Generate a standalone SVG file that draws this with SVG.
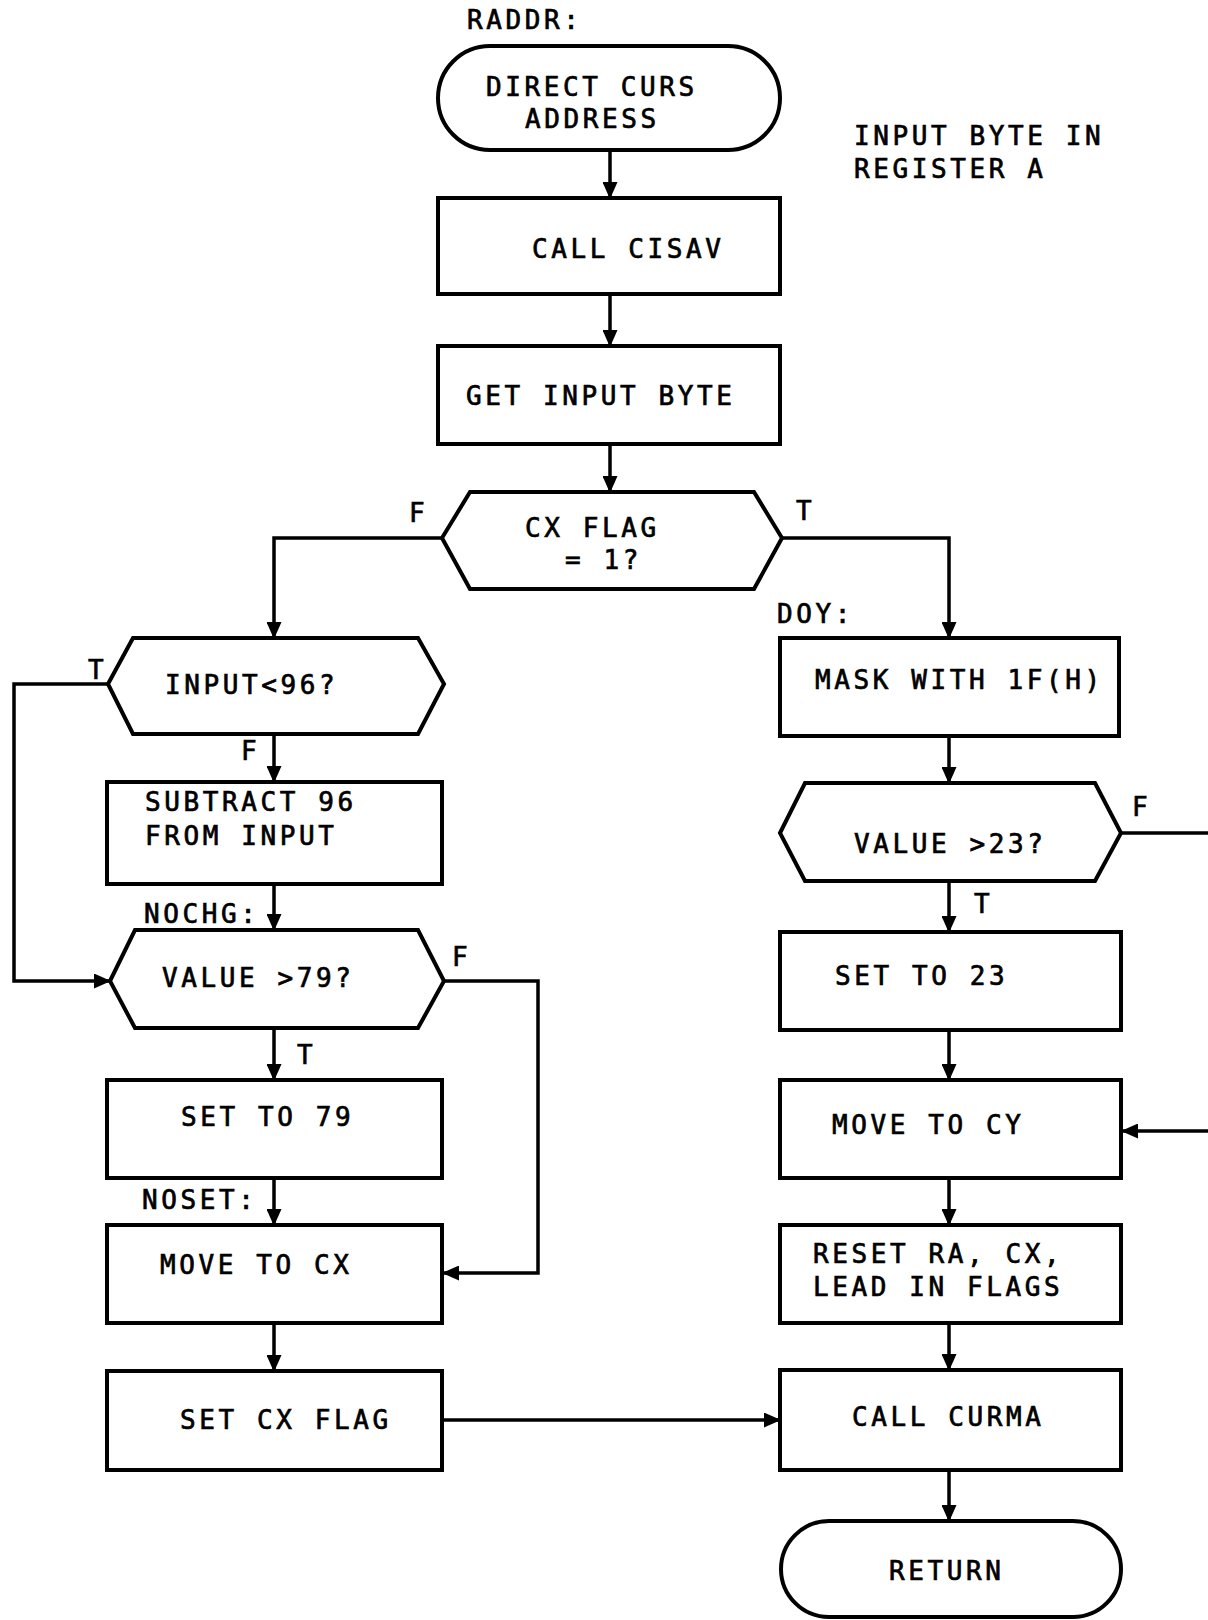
<svg xmlns="http://www.w3.org/2000/svg" width="1208" height="1620" viewBox="0 0 1208 1620">
<style>
.box{fill:#fff;stroke:#000;stroke-width:4}
.ln{fill:none;stroke:#000;stroke-width:3.5}
text{font-family:"DejaVu Sans Mono","Liberation Mono",monospace;font-size:26px;letter-spacing:3.6px;fill:#000;stroke:#000;stroke-width:0.7}
</style>
<defs>
<marker id="ah" markerUnits="userSpaceOnUse" markerWidth="17" markerHeight="15" refX="16" refY="7.5" orient="auto">
<path d="M0,0 L17,7.5 L0,15 z" fill="#000"/>
</marker>
</defs>
<rect width="1208" height="1620" fill="#fff"/>

<g id="connectors">
<path class="ln" d="M610,150 V198" marker-end="url(#ah)"/>
<path class="ln" d="M610,294 V346" marker-end="url(#ah)"/>
<path class="ln" d="M610,444 V492" marker-end="url(#ah)"/>
<path class="ln" d="M442,538 H274 V638" marker-end="url(#ah)"/>
<path class="ln" d="M782,538 H949 V638" marker-end="url(#ah)"/>
<path class="ln" d="M108,684 H14 V981 H110" marker-end="url(#ah)"/>
<path class="ln" d="M274,734 V782" marker-end="url(#ah)"/>
<path class="ln" d="M274,884 V930" marker-end="url(#ah)"/>
<path class="ln" d="M444,981 H538 V1273 H443" marker-end="url(#ah)"/>
<path class="ln" d="M274,1028 V1080" marker-end="url(#ah)"/>
<path class="ln" d="M274,1178 V1225" marker-end="url(#ah)"/>
<path class="ln" d="M274,1323 V1371" marker-end="url(#ah)"/>
<path class="ln" d="M442,1420 H780" marker-end="url(#ah)"/>
<path class="ln" d="M949,736 V783" marker-end="url(#ah)"/>
<path class="ln" d="M1121,833 H1208"/>
<path class="ln" d="M949,881 V932" marker-end="url(#ah)"/>
<path class="ln" d="M949,1030 V1080" marker-end="url(#ah)"/>
<path class="ln" d="M1208,1131 H1122" marker-end="url(#ah)"/>
<path class="ln" d="M949,1178 V1225" marker-end="url(#ah)"/>
<path class="ln" d="M949,1323 V1370" marker-end="url(#ah)"/>
<path class="ln" d="M949,1470 V1521" marker-end="url(#ah)"/>
</g>

<g id="labels">
<text x="467" y="29">RADDR:</text>
<text x="854" y="145">INPUT BYTE IN</text>
<text x="854" y="178">REGISTER A</text>
<text x="409" y="522">F</text>
<text x="796" y="520">T</text>
<text x="88" y="679">T</text>
<text x="241" y="760">F</text>
<text x="144" y="923">NOCHG:</text>
<text x="452" y="966">F</text>
<text x="297" y="1064">T</text>
<text x="142" y="1209">NOSET:</text>
<text x="777" y="623">DOY:</text>
<text x="1132" y="816">F</text>
<text x="974" y="913">T</text>
</g>

<g id="n_start">
<rect class="box" x="438" y="46" width="342" height="104" rx="52" ry="52"/>
<text x="486" y="96">DIRECT CURS</text>
<text x="525" y="128">ADDRESS</text>
</g>
<g id="n_cisav">
<rect class="box" x="438" y="198" width="342" height="96"/>
<text x="532" y="258">CALL CISAV</text>
</g>
<g id="n_getbyte">
<rect class="box" x="438" y="346" width="342" height="98"/>
<text x="466" y="405">GET INPUT BYTE</text>
</g>
<g id="n_cxflag">
<polygon class="box" points="442,538 470,492 754,492 782,538 754,589 470,589"/>
<text x="525" y="537">CX FLAG</text>
<text x="565" y="569">= 1?</text>
</g>
<g id="n_input96">
<polygon class="box" points="108,684 133,638 418,638 444,684 418,734 133,734"/>
<text x="165" y="694">INPUT&lt;96?</text>
</g>
<g id="n_subtract">
<rect class="box" x="107" y="782" width="335" height="102"/>
<text x="145" y="811">SUBTRACT 96</text>
<text x="145" y="845">FROM INPUT</text>
</g>
<g id="n_value79">
<polygon class="box" points="110,981 135,930 418,930 444,981 418,1028 135,1028"/>
<text x="162" y="987">VALUE &gt;79?</text>
</g>
<g id="n_set79">
<rect class="box" x="107" y="1080" width="335" height="98"/>
<text x="181" y="1126">SET TO 79</text>
</g>
<g id="n_movecx">
<rect class="box" x="107" y="1225" width="335" height="98"/>
<text x="160" y="1274">MOVE TO CX</text>
</g>
<g id="n_setcxflag">
<rect class="box" x="107" y="1371" width="335" height="99"/>
<text x="180" y="1429">SET CX FLAG</text>
</g>
<g id="n_mask">
<rect class="box" x="780" y="638" width="339" height="98"/>
<text x="815" y="689">MASK WITH 1F(H)</text>
</g>
<g id="n_value23">
<polygon class="box" points="780,833 805,783 1095,783 1121,833 1095,881 805,881"/>
<text x="854" y="853">VALUE &gt;23?</text>
</g>
<g id="n_set23">
<rect class="box" x="780" y="932" width="341" height="98"/>
<text x="835" y="985">SET TO 23</text>
</g>
<g id="n_movecy">
<rect class="box" x="780" y="1080" width="341" height="98"/>
<text x="832" y="1134">MOVE TO CY</text>
</g>
<g id="n_reset">
<rect class="box" x="780" y="1225" width="341" height="98"/>
<text x="813" y="1263">RESET RA, CX,</text>
<text x="813" y="1296">LEAD IN FLAGS</text>
</g>
<g id="n_curma">
<rect class="box" x="780" y="1370" width="341" height="100"/>
<text x="852" y="1426">CALL CURMA</text>
</g>
<g id="n_return">
<rect class="box" x="781" y="1521" width="340" height="96" rx="48" ry="48"/>
<text x="889" y="1580">RETURN</text>
</g>
</svg>
